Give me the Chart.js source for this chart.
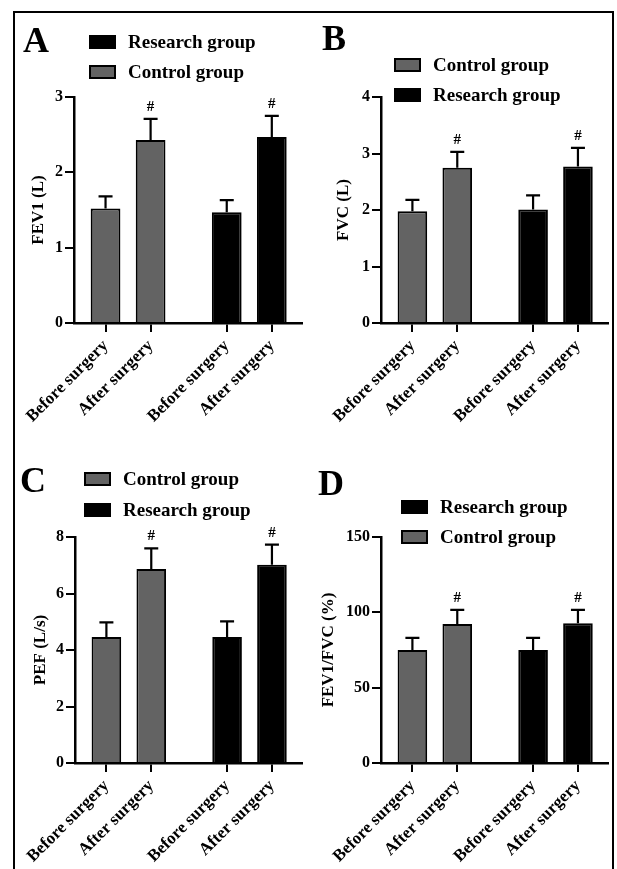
<!DOCTYPE html>
<html>
<head>
<meta charset="utf-8">
<script src="https://cdn.jsdelivr.net/npm/chart.js@4.4.0/dist/chart.umd.min.js"></script>
<style>
  body { margin: 0; background: #fff; width: 617px; height: 869px; overflow: hidden; position: relative; }
  #frame { position: absolute; left: 13px; top: 11px; width: 597px; height: 900px; border: 2px solid #000; }
  canvas { position: absolute; }
</style>
</head>
<body>
<div id="frame"></div>
<canvas id="chartA" width="308" height="430" style="left:0;top:0"></canvas>
<canvas id="chartB" width="309" height="430" style="left:308px;top:0"></canvas>
<canvas id="chartC" width="308" height="439" style="left:0;top:430px"></canvas>
<canvas id="chartD" width="309" height="439" style="left:308px;top:430px"></canvas>
<script>
// Data (mean + upper SD)
const xLabels = ['Before surgery', 'After surgery'];
const sigMarks = ['', '#'];

const fev1Control = [1.52, 2.43];
const fev1ControlSd = [0.16, 0.28];
const fev1Research = [1.47, 2.47];
const fev1ResearchSd = [0.16, 0.28];
const fev1Ticks = [0, 1, 2, 3];

const fvcControl = [1.98, 2.75];
const fvcControlSd = [0.20, 0.28];
const fvcResearch = [2.01, 2.77];
const fvcResearchSd = [0.25, 0.33];
const fvcTicks = [0, 1, 2, 3, 4];

const pefControl = [4.46, 6.87];
const pefControlSd = [0.52, 0.73];
const pefResearch = [4.46, 7.02];
const pefResearchSd = [0.55, 0.71];
const pefTicks = [0, 2, 4, 6, 8];

const ratioControl = [75.0, 92.3];
const ratioControlSd = [8.0, 9.3];
const ratioResearch = [75.0, 92.8];
const ratioResearchSd = [8.0, 8.8];
const ratioTicks = [0, 50, 100, 150];

const serif = 'Liberation Serif, Times New Roman, serif';
const groupGap = 0.69;

// error bars, # marks, legend and panel letter
const decor = {
  id: 'decor',
  afterDatasetsDraw(chart, args, opts) {
    const ctx = chart.ctx;
    const yScale = chart.scales.y;
    ctx.save();
    chart.data.datasets.forEach((ds, di) => {
      const meta = chart.getDatasetMeta(di);
      meta.data.forEach((bar, i) => {
        const top = yScale.getPixelForValue(ds.data[i].y + ds.sd[i]);
        ctx.strokeStyle = '#000';
        ctx.lineWidth = 2.2;
        ctx.beginPath();
        ctx.moveTo(bar.x, bar.y);
        ctx.lineTo(bar.x, top);
        ctx.moveTo(bar.x - 7, top);
        ctx.lineTo(bar.x + 7, top);
        ctx.stroke();
        if (sigMarks[i]) {
          ctx.fillStyle = '#000';
          ctx.font = 'bold 15px ' + serif;
          ctx.textAlign = 'center';
          ctx.textBaseline = 'alphabetic';
          ctx.fillText(sigMarks[i], bar.x, top - 8);
        }
      });
    });
    ctx.restore();
  },
  afterDraw(chart, args, opts) {
    const ctx = chart.ctx;
    ctx.save();
    ctx.fillStyle = '#000';
    ctx.font = 'bold 36px ' + serif;
    ctx.textAlign = 'left';
    ctx.textBaseline = 'alphabetic';
    ctx.fillText(opts.letter, opts.letterX, opts.letterY);
    opts.order.forEach((di, row) => {
      const ds = chart.data.datasets[di];
      const y = opts.legendRows[row];
      ctx.fillStyle = ds.backgroundColor;
      ctx.fillRect(opts.legendX, y - 6, 25, 12);
      ctx.strokeStyle = '#000';
      ctx.lineWidth = 2;
      ctx.strokeRect(opts.legendX, y - 6, 25, 12);
      ctx.fillStyle = '#000';
      ctx.font = 'bold 19px ' + serif;
      ctx.textBaseline = 'middle';
      ctx.fillText(ds.label, opts.legendX + 38, y + 1);
    });
    ctx.restore();
  }
};

function makePanel(id, p) {
  const xAt = (g, i) => g * (xLabels.length + groupGap) + i;
  const tickPos = [0, 1].flatMap(g => xLabels.map((l, i) => xAt(g, i)));
  const canvas = document.getElementById(id);
  const w = canvas.width, h = canvas.height;

  return new Chart(canvas, {
    type: 'bar',
    data: {
      datasets: [
        {
          label: 'Control group',
          data: p.control.map((v, i) => ({ x: xAt(0, i), y: v })),
          sd: p.controlSd,
          backgroundColor: '#636363'
        },
        {
          label: 'Research group',
          data: p.research.map((v, i) => ({ x: xAt(1, i), y: v })),
          sd: p.researchSd,
          backgroundColor: '#000000'
        }
      ]
    },
    options: {
      responsive: false,
      animation: false,
      devicePixelRatio: 1,
      layout: { padding: { top: p.area.top, right: w - p.area.right, left: 0, bottom: 0 } },
      datasets: {
        bar: {
          grouped: false,
          barPercentage: 0.66,
          categoryPercentage: 1,
          borderColor: '#000',
          borderWidth: 2
        }
      },
      plugins: {
        legend: { display: false },
        tooltip: { enabled: false },
        decor: p.decor
      },
      scales: {
        x: {
          type: 'linear',
          offset: false,
          min: -0.7,
          max: tickPos[tickPos.length - 1] + 0.67,
          afterBuildTicks: axis => { axis.ticks = tickPos.map(v => ({ value: v })); },
          afterFit: axis => { axis.height = h - p.area.bottom; },
          border: { color: '#000', width: 2.5 },
          grid: { offset: false, drawOnChartArea: false, drawTicks: true, tickLength: 9, color: '#000', lineWidth: 2 },
          ticks: {
            autoSkip: false,
            minRotation: 45,
            maxRotation: 45,
            padding: 4,
            color: '#000',
            font: { family: serif, weight: 'bold', size: 17 },
            callback: (v, i) => xLabels[i % xLabels.length]
          }
        },
        y: {
          min: p.ticks[0],
          max: p.ticks[p.ticks.length - 1],
          afterFit: axis => { axis.width = p.area.left; },
          border: { color: '#000', width: 2.5 },
          grid: { drawOnChartArea: false, drawTicks: true, tickLength: 9, color: '#000', lineWidth: 2 },
          ticks: {
            stepSize: p.ticks[1] - p.ticks[0],
            padding: 2,
            color: '#000',
            font: { family: serif, weight: 'bold', size: 16 }
          },
          title: {
            display: true,
            text: p.title,
            color: '#000',
            font: { family: serif, weight: 'bold', size: 17 },
            padding: { top: p.titlePad, bottom: 0 }
          }
        }
      }
    },
    plugins: [decor]
  });
}

makePanel('chartA', {
  control: fev1Control, controlSd: fev1ControlSd,
  research: fev1Research, researchSd: fev1ResearchSd,
  ticks: fev1Ticks, title: 'FEV1 (L)', titlePad: 28,
  area: { left: 74, right: 302, top: 97, bottom: 323 },
  decor: { letter: 'A', letterX: 23, letterY: 52, legendX: 90, legendRows: [42, 72], order: [1, 0] }
});
makePanel('chartB', {
  control: fvcControl, controlSd: fvcControlSd,
  research: fvcResearch, researchSd: fvcResearchSd,
  ticks: fvcTicks, title: 'FVC (L)', titlePad: 25,
  area: { left: 73, right: 300, top: 97, bottom: 323 },
  decor: { letter: 'B', letterX: 14, letterY: 50, legendX: 87, legendRows: [65, 95], order: [0, 1] }
});
makePanel('chartC', {
  control: pefControl, controlSd: pefControlSd,
  research: pefResearch, researchSd: pefResearchSd,
  ticks: pefTicks, title: 'PEF (L/s)', titlePad: 30,
  area: { left: 75, right: 302, top: 107, bottom: 333 },
  decor: { letter: 'C', letterX: 20, letterY: 62, legendX: 85, legendRows: [49, 80], order: [0, 1] }
});
makePanel('chartD', {
  control: ratioControl, controlSd: ratioControlSd,
  research: ratioResearch, researchSd: ratioResearchSd,
  ticks: ratioTicks, title: 'FEV1/FVC (%)', titlePad: 10,
  area: { left: 73, right: 300, top: 107, bottom: 333 },
  decor: { letter: 'D', letterX: 10, letterY: 65, legendX: 94, legendRows: [77, 107], order: [1, 0] }
});
</script>
</body>
</html>
